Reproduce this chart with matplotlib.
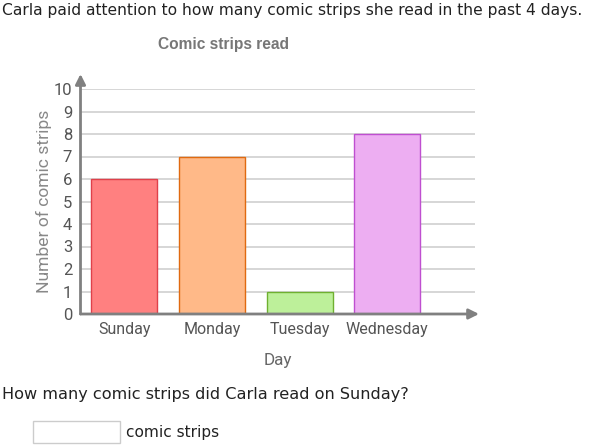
import matplotlib
matplotlib.use("Agg")
import matplotlib.pyplot as plt
from matplotlib.patches import Rectangle

days = ["Sunday", "Monday", "Tuesday", "Wednesday"]
counts = [6, 7, 1, 8]
y_ticks = list(range(0, 11))
fill_colors = ["#ff8080", "#ffb988", "#bdf09a", "#edaef2"]
edge_colors = ["#e0404a", "#e06a10", "#6fb030", "#bf4fd0"]

W, H = 600, 445
fig = plt.figure(figsize=(6, 4.45), dpi=100)

def fx(px):
    return px / W

def fy(py):
    return 1 - py / H

# axes: x from 80 to 475 px, y: 0 at 314 px, 10 at 89 px
ax = fig.add_axes([fx(80.5), fy(314), fx(475) - fx(80.5), fy(89) - fy(314)])
ax.set_xlim(-0.5, 4.0)
ax.set_ylim(0, 10)

for y in y_ticks[1:]:
    ax.axhline(y, color="#d0d0d0", lw=1.2, zorder=0)

x = list(range(len(days)))
ax.bar(x, counts, width=0.755, color=fill_colors, edgecolor=edge_colors,
       linewidth=1.0, zorder=2)

for s in ax.spines.values():
    s.set_visible(False)

ax.set_xticks(x)
ax.set_xticklabels(days, family="Roboto", fontsize=11.5, color="#555555")
ax.set_yticks(y_ticks)
ax.set_yticklabels([str(v) for v in y_ticks], family="Roboto", fontsize=12,
                   color="#555555")
ax.tick_params(length=0)
ax.tick_params(axis="y", pad=6)
ax.tick_params(axis="x", pad=6)

ax.set_xlabel("Day", family="Roboto", fontsize=12.3, color="#666666", labelpad=11)
ax.set_ylabel("Number of comic strips", family="Roboto", fontsize=12.6,
              color="#888888", labelpad=1)

# axis arrows
axis_col = "#808080"
ax.annotate("", xy=(fx(479), fy(314)), xytext=(fx(80.5), fy(314)),
            xycoords="figure fraction", textcoords="figure fraction",
            arrowprops=dict(arrowstyle="-|>,head_length=0.6,head_width=0.3",
                            color=axis_col, lw=2, shrinkA=0, shrinkB=0))
ax.annotate("", xy=(fx(80.5), fy(74)), xytext=(fx(80.5), fy(314)),
            xycoords="figure fraction", textcoords="figure fraction",
            arrowprops=dict(arrowstyle="-|>,head_length=0.6,head_width=0.3",
                            color=axis_col, lw=2, shrinkA=0, shrinkB=0))

fig.text(fx(2), fy(11), "Carla paid attention to how many comic strips she read in the past 4 days.",
         family="DejaVu Sans", fontsize=11.2, color="#222222", va="center", ha="left")
fig.text(fx(224), fy(44), "Comic strips read", family="Liberation Sans",
         fontsize=11.2, fontweight="bold", color="#777777", va="center", ha="center")
fig.text(fx(2), fy(395), "How many comic strips did Carla read on Sunday?",
         family="DejaVu Sans", fontsize=11.6, color="#222222", va="center", ha="left")
fig.patches.append(Rectangle((fx(33), fy(443)), fx(87), fy(421) - fy(443),
                             transform=fig.transFigure, facecolor="white",
                             edgecolor="#cccccc", lw=1))
fig.text(fx(126), fy(433), "comic strips", family="DejaVu Sans",
         fontsize=11.1, color="#222222", va="center", ha="left")

fig.savefig("out.png", dpi=100)
